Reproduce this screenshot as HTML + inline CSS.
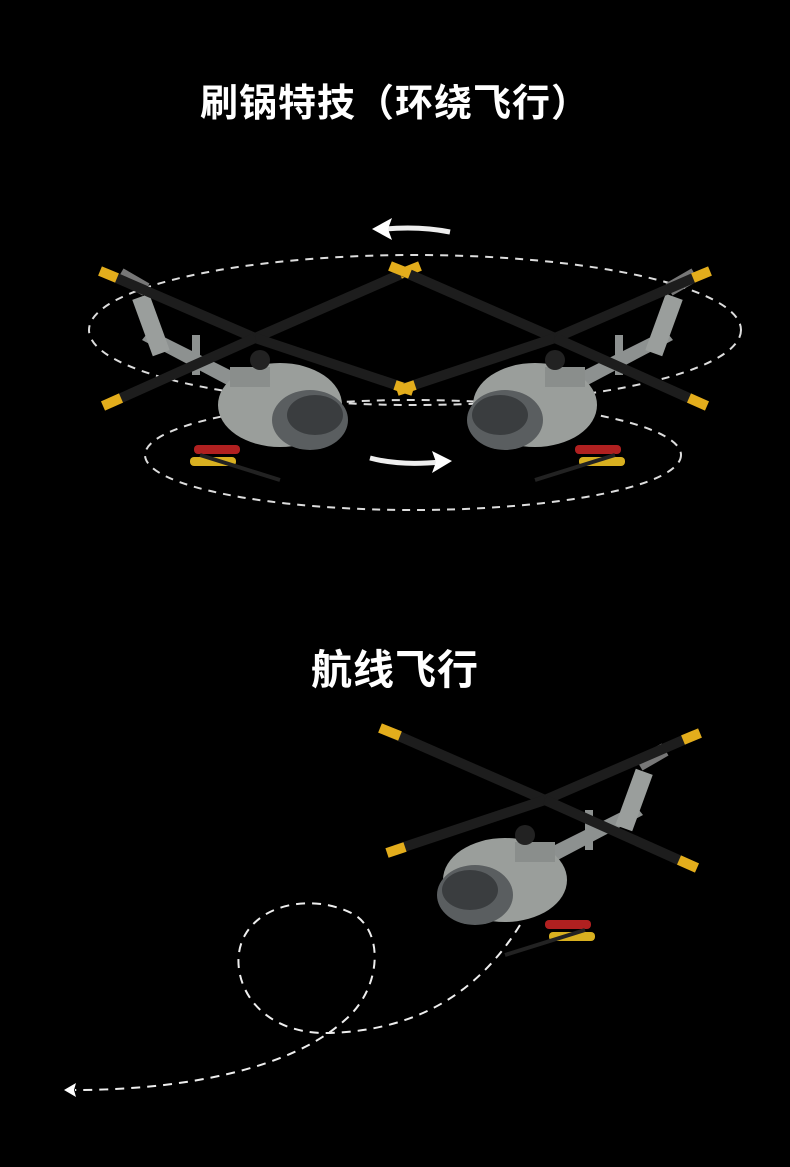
<!DOCTYPE html>
<html><head><meta charset="utf-8"><style>
html,body{margin:0;padding:0;background:#000;}
body{width:790px;height:1167px;position:relative;overflow:hidden;}
.t{position:absolute;left:0;width:790px;text-align:center;color:#fff;font-family:"Liberation Sans","Noto Sans CJK SC",sans-serif;font-weight:bold;font-size:38px;letter-spacing:1px;}
svg{position:absolute;left:0;top:0;}
</style></head><body>
<div class="t" style="top:72px;">刷锅特技（环绕飞行）</div>
<div class="t" style="top:636px;font-size:41px;">航线飞行</div>
<svg width="790" height="1167" viewBox="0 0 790 1167">
<defs>
<g id="heli">
 <path d="M0 0 L110 -55 L118 -45 L10 12 Z" fill="#8d9190"/>
 <rect x="100" y="-90" width="18" height="60" fill="#9a9e9c" transform="rotate(20 109 -60)"/>
 <rect x="112" y="-110" width="30" height="14" fill="#777" transform="rotate(-30 127 -103)"/>
 <rect x="60" y="-50" width="8" height="40" fill="#8d9190"/>
 <ellipse cx="-20" cy="20" rx="62" ry="42" fill="#9a9e9b"/>
 <ellipse cx="-50" cy="35" rx="38" ry="30" fill="#5a5e60"/>
 <ellipse cx="-55" cy="30" rx="28" ry="20" fill="#3a3d3f"/>
 <rect x="-10" y="-18" width="40" height="20" fill="#8a8e8c"/>
 <rect x="20" y="60" width="46" height="9" rx="4" fill="#b02020"/>
 <rect x="24" y="72" width="46" height="9" rx="4" fill="#d8b020"/>
 <path d="M-20 95 L60 70" stroke="#222" stroke-width="4"/>
 <circle cx="0" cy="-25" r="10" fill="#222"/>
</g>
<g id="rotor">
 <path d="M0 0 L-160 -70" stroke="#1d1d1d" stroke-width="10"/>
 <path d="M0 0 L150 -65" stroke="#1d1d1d" stroke-width="10"/>
 <path d="M0 0 L-150 50" stroke="#1d1d1d" stroke-width="10"/>
 <path d="M0 0 L145 65" stroke="#1d1d1d" stroke-width="10"/>
 <path d="M-145 -64 L-165 -72" stroke="#e3ad1c" stroke-width="10"/>
 <path d="M138 -60 L155 -67" stroke="#e3ad1c" stroke-width="10"/>
 <path d="M-140 47 L-158 53" stroke="#e3ad1c" stroke-width="10"/>
 <path d="M134 60 L152 68" stroke="#e3ad1c" stroke-width="10"/>
</g>
</defs>
<g fill="none" stroke="#ddd" stroke-width="2" stroke-dasharray="8 7">
 <ellipse cx="415" cy="330" rx="326" ry="75"/>
 <ellipse cx="413" cy="455" rx="268" ry="55"/>
</g>
<g transform="translate(260,385) scale(-1,1)"><use href="#heli"/></g>
<g transform="translate(255,338) scale(-1,1)"><use href="#rotor"/></g>
<g transform="translate(555,385)"><use href="#heli"/></g>
<g transform="translate(555,338)"><use href="#rotor"/></g>
<path d="M450 232 Q420 226 385 229" stroke="#eee" stroke-width="5" fill="none"/>
<path d="M372 229 L392 218 L388 229 L392 240 Z" fill="#fff"/>
<path d="M370 458 Q400 466 440 462" stroke="#eee" stroke-width="5" fill="none"/>
<path d="M452 461 L432 451 L436 462 L432 473 Z" fill="#fff"/>
<g transform="translate(525,860)"><use href="#heli"/></g>
<g transform="translate(545,800)"><use href="#rotor"/></g>
<g fill="none" stroke="#eee" stroke-width="2" stroke-dasharray="9 7">
 <path d="M520 925 C480 990 420 1030 330 1033 C250 1035 225 970 245 935 C265 900 320 895 355 915 C385 935 380 990 345 1020 C290 1070 180 1090 75 1090"/>
</g>
<path d="M64 1090 L76 1083 L74 1090 L76 1097 Z" fill="#fff"/>
</svg>
</body></html>
